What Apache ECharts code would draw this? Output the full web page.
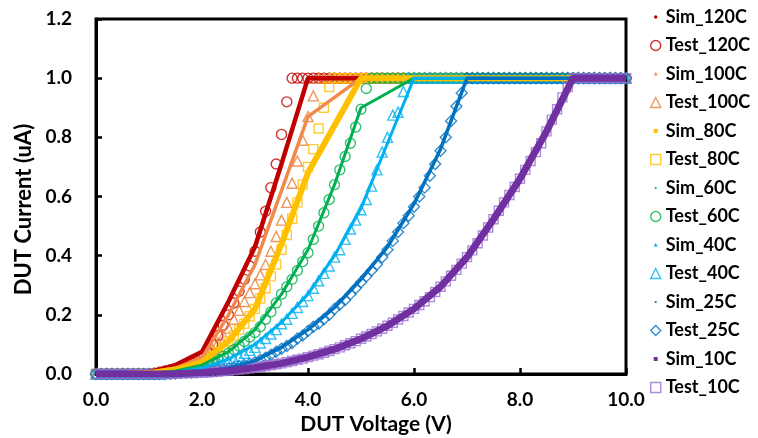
<!DOCTYPE html>
<html>
<head>
<meta charset="utf-8">
<script src="https://cdn.jsdelivr.net/npm/echarts@6/dist/echarts.min.js"></script>
<style>
  html, body { margin: 0; padding: 0; background: #fff; }
  #chart { width: 758px; height: 438px; }
</style>
</head>
<body>
<div id="chart"></div>
<script>
// 测试点电压 (0.1 V 步长)
var voltage = [
  0.0, 0.1, 0.2, 0.3, 0.4, 0.5, 0.6, 0.7, 0.8, 0.9,
  1.0, 1.1, 1.2, 1.3, 1.4, 1.5, 1.6, 1.7, 1.8, 1.9,
  2.0, 2.1, 2.2, 2.3, 2.4, 2.5, 2.6, 2.7, 2.8, 2.9,
  3.0, 3.1, 3.2, 3.3, 3.4, 3.5, 3.6, 3.7, 3.8, 3.9,
  4.0, 4.1, 4.2, 4.3, 4.4, 4.5, 4.6, 4.7, 4.8, 4.9,
  5.0, 5.1, 5.2, 5.3, 5.4, 5.5, 5.6, 5.7, 5.8, 5.9,
  6.0, 6.1, 6.2, 6.3, 6.4, 6.5, 6.6, 6.7, 6.8, 6.9,
  7.0, 7.1, 7.2, 7.3, 7.4, 7.5, 7.6, 7.7, 7.8, 7.9,
  8.0, 8.1, 8.2, 8.3, 8.4, 8.5, 8.6, 8.7, 8.8, 8.9,
  9.0, 9.1, 9.2, 9.3, 9.4, 9.5, 9.6, 9.7, 9.8, 9.9,
  10.0
];

// 仿真点电压 (0.5 V 步长)
var simVoltage = [0, 0.5, 1, 1.5, 2, 2.5, 3, 3.5, 4, 4.5, 5, 5.5, 6, 6.5, 7, 7.5, 8, 8.5, 9, 9.5, 10];

var sim120 = [0, 0, 0.005, 0.03, 0.075, 0.245, 0.43, 0.71, 1, 1, 1, 1, 1, 1, 1, 1, 1, 1, 1, 1, 1];
var sim100 = [0, 0, 0.004, 0.02, 0.055, 0.20, 0.37, 0.62, 0.87, 0.935, 1, 1, 1, 1, 1, 1, 1, 1, 1, 1, 1];
var sim80  = [0, 0, 0.003, 0.015, 0.04, 0.11, 0.22, 0.44, 0.68, 0.84, 1, 1, 1, 1, 1, 1, 1, 1, 1, 1, 1];
var sim60  = [0, 0, 0.002, 0.01, 0.03, 0.075, 0.15, 0.27, 0.42, 0.64, 0.90, 0.95, 1, 1, 1, 1, 1, 1, 1, 1, 1];
var sim40  = [0, 0, 0.001, 0.006, 0.02, 0.05, 0.10, 0.175, 0.27, 0.40, 0.56, 0.78, 1, 1, 1, 1, 1, 1, 1, 1, 1];
var sim25  = [0, 0, 0, 0.003, 0.008, 0.02, 0.045, 0.09, 0.15, 0.225, 0.32, 0.43, 0.575, 0.76, 1, 1, 1, 1, 1, 1, 1];
var sim10  = [0, 0, 0, 0.001, 0.005, 0.011, 0.021, 0.036, 0.057, 0.084, 0.119, 0.163, 0.22, 0.295, 0.395, 0.523, 0.66, 0.82, 1, 1, 1];

var test120 = [
  0, 0, 0, 0, 0, 0, 0, 0, 0, 0,
  0, 0.003, 0.006, 0.01, 0.014, 0.019, 0.025, 0.031, 0.038, 0.046,
  0.055, 0.075, 0.10, 0.13, 0.165, 0.20, 0.24, 0.28, 0.32, 0.365,
  0.415, 0.48, 0.55, 0.63, 0.71, 0.81, 0.92, 1, 1, 1,
  1, 1, 1, 1, 1, 1, 1, 1, 1, 1,
  1, 1, 1, 1, 1, 1, 1, 1, 1, 1,
  1, 1, 1, 1, 1, 1, 1, 1, 1, 1,
  1, 1, 1, 1, 1, 1, 1, 1, 1, 1,
  1, 1, 1, 1, 1, 1, 1, 1, 1, 1,
  1, 1, 1, 1, 1, 1, 1, 1, 1, 1,
  1
];
var test100 = [
  0, 0, 0, 0, 0, 0, 0, 0, 0, 0,
  0, 0.002, 0.005, 0.008, 0.012, 0.016, 0.021, 0.027, 0.033, 0.04,
  0.048, 0.063, 0.082, 0.105, 0.13, 0.155, 0.185, 0.215, 0.245, 0.275,
  0.305, 0.335, 0.37, 0.415, 0.465, 0.52, 0.58, 0.645, 0.72, 0.79,
  0.87, 0.94, 1, 1, 1, 1, 1, 1, 1, 1,
  1, 1, 1, 1, 1, 1, 1, 1, 1, 1,
  1, 1, 1, 1, 1, 1, 1, 1, 1, 1,
  1, 1, 1, 1, 1, 1, 1, 1, 1, 1,
  1, 1, 1, 1, 1, 1, 1, 1, 1, 1,
  1, 1, 1, 1, 1, 1, 1, 1, 1, 1,
  1
];
var test80 = [
  0, 0, 0, 0, 0, 0, 0, 0, 0, 0,
  0, 0, 0.003, 0.006, 0.009, 0.013, 0.017, 0.022, 0.027, 0.033,
  0.04, 0.05, 0.06, 0.075, 0.09, 0.11, 0.13, 0.15, 0.17, 0.195,
  0.22, 0.255, 0.29, 0.33, 0.37, 0.42, 0.47, 0.525, 0.58, 0.64,
  0.70, 0.76, 0.83, 0.90, 0.97, 1, 1, 1, 1, 1,
  1, 1, 1, 1, 1, 1, 1, 1, 1, 1,
  1, 1, 1, 1, 1, 1, 1, 1, 1, 1,
  1, 1, 1, 1, 1, 1, 1, 1, 1, 1,
  1, 1, 1, 1, 1, 1, 1, 1, 1, 1,
  1, 1, 1, 1, 1, 1, 1, 1, 1, 1,
  1
];
var test60 = [
  0, 0, 0, 0, 0, 0, 0, 0, 0, 0,
  0, 0, 0.002, 0.004, 0.006, 0.009, 0.012, 0.016, 0.02, 0.025,
  0.03, 0.035, 0.042, 0.05, 0.06, 0.07, 0.082, 0.095, 0.11, 0.125,
  0.14, 0.16, 0.185, 0.21, 0.24, 0.27, 0.295, 0.32, 0.35, 0.38,
  0.41, 0.455, 0.50, 0.545, 0.59, 0.64, 0.69, 0.735, 0.78, 0.835,
  0.895, 0.965, 1, 1, 1, 1, 1, 1, 1, 1,
  1, 1, 1, 1, 1, 1, 1, 1, 1, 1,
  1, 1, 1, 1, 1, 1, 1, 1, 1, 1,
  1, 1, 1, 1, 1, 1, 1, 1, 1, 1,
  1, 1, 1, 1, 1, 1, 1, 1, 1, 1,
  1
];
var test40 = [
  0, 0, 0, 0, 0, 0, 0, 0, 0, 0,
  0, 0, 0, 0.002, 0.004, 0.006, 0.008, 0.01, 0.013, 0.016,
  0.02, 0.023, 0.027, 0.032, 0.038, 0.045, 0.052, 0.06, 0.07, 0.08,
  0.09, 0.105, 0.12, 0.135, 0.15, 0.17, 0.185, 0.205, 0.225, 0.245,
  0.265, 0.29, 0.315, 0.34, 0.365, 0.395, 0.42, 0.455, 0.49, 0.52,
  0.555, 0.59, 0.635, 0.69, 0.75, 0.80, 0.875, 0.885, 0.955, 1,
  1, 1, 1, 1, 1, 1, 1, 1, 1, 1,
  1, 1, 1, 1, 1, 1, 1, 1, 1, 1,
  1, 1, 1, 1, 1, 1, 1, 1, 1, 1,
  1, 1, 1, 1, 1, 1, 1, 1, 1, 1,
  1
];
var test25 = [
  0, 0, 0, 0, 0, 0, 0, 0, 0, 0,
  0, 0, 0, 0, 0.001, 0.002, 0.003, 0.004, 0.005, 0.006,
  0.008, 0.009, 0.011, 0.013, 0.016, 0.019, 0.022, 0.026, 0.03, 0.035,
  0.04, 0.048, 0.055, 0.065, 0.075, 0.085, 0.095, 0.105, 0.12, 0.13,
  0.145, 0.16, 0.17, 0.185, 0.20, 0.22, 0.235, 0.25, 0.27, 0.29,
  0.31, 0.33, 0.35, 0.37, 0.395, 0.42, 0.45, 0.48, 0.51, 0.535,
  0.565, 0.60, 0.63, 0.67, 0.71, 0.755, 0.80, 0.855, 0.905, 0.95,
  1, 1, 1, 1, 1, 1, 1, 1, 1, 1,
  1, 1, 1, 1, 1, 1, 1, 1, 1, 1,
  1, 1, 1, 1, 1, 1, 1, 1, 1, 1,
  1
];
var test10 = [
  0, 0, 0, 0, 0, 0, 0, 0, 0, 0,
  0, 0, 0, 0, 0, 0.001, 0.002, 0.003, 0.003, 0.004,
  0.005, 0.006, 0.007, 0.008, 0.01, 0.011, 0.013, 0.015, 0.017, 0.019,
  0.021, 0.024, 0.027, 0.03, 0.033, 0.036, 0.04, 0.044, 0.048, 0.052,
  0.057, 0.062, 0.067, 0.072, 0.078, 0.084, 0.09, 0.097, 0.104, 0.111,
  0.119, 0.127, 0.135, 0.144, 0.153, 0.163, 0.173, 0.184, 0.196, 0.208,
  0.22, 0.233, 0.246, 0.26, 0.277, 0.295, 0.313, 0.332, 0.352, 0.373,
  0.395, 0.418, 0.442, 0.468, 0.495, 0.523, 0.552, 0.58, 0.605, 0.632,
  0.66, 0.69, 0.72, 0.75, 0.78, 0.82, 0.86, 0.895, 0.935, 0.97,
  1, 1, 1, 1, 1, 1, 1, 1, 1, 1,
  1
];

var xTicks = [0, 2, 4, 6, 8, 10];
var yTicks = [0, 0.2, 0.4, 0.6, 0.8, 1.0, 1.2];

// 小图例图标 (带透明边界点, 使图标在方框中变小)
var dotIcon = 'path://M0,0M10,10M5,3.3a1.7,1.7 0 1,0 0.001,0z';
var tinyDot = 'path://M0,0M10,10M5,3.9a1.1,1.1 0 1,0 0.001,0z';
var triIcon = 'path://M0,0M10,10M5,3L7,6.6H3z';
var sqIcon  = 'path://M0,0M10,10M3,3h4v4h-4z';

var groups = [
  { t: '120C', sim: sim120, test: test120, color: '#C00000', tcolor: '#C00000', width: 4.5, sym: 'circle', size: 10, icon: dotIcon },
  { t: '100C', sim: sim100, test: test100, color: '#F08A4B', tcolor: '#ED7D31', width: 3.5, sym: 'triangle', size: 10, icon: triIcon },
  { t: '80C',  sim: sim80,  test: test80,  color: '#FFC000', tcolor: '#FFC000', width: 6,   sym: 'rect', size: 9, icon: sqIcon },
  { t: '60C',  sim: sim60,  test: test60,  color: '#00B050', tcolor: '#00B050', width: 3,   sym: 'circle', size: 10, icon: tinyDot },
  { t: '40C',  sim: sim40,  test: test40,  color: '#00B0F0', tcolor: '#00B0F0', width: 3,   sym: 'triangle', size: 10, icon: triIcon },
  { t: '25C',  sim: sim25,  test: test25,  color: '#0070C0', tcolor: '#0070C0', width: 3.5, sym: 'diamond', size: 11, icon: tinyDot },
  { t: '10C',  sim: sim10,  test: test10,  color: '#7030A0', tcolor: '#9B6BD3', width: 7,   sym: 'rect', size: 9, icon: sqIcon }
];

var series = [];
var legendData = [];
groups.forEach(function (g) {
  series.push({
    name: 'Sim_' + g.t,
    type: 'line',
    data: simVoltage.map(function (v, i) { return [v, g.sim[i]]; }),
    showSymbol: false,
    symbol: 'none',
    color: g.color,
    lineStyle: { color: g.color, width: g.width },
    animation: false
  });
  series.push({
    name: 'Test_' + g.t,
    type: 'scatter',
    data: voltage.map(function (v, i) { return [v, g.test[i]]; }),
    symbol: g.sym,
    symbolSize: g.size,
    color: g.tcolor,
    itemStyle: { color: 'rgba(255,255,255,0)', borderColor: g.tcolor, borderWidth: 1.4 },
    animation: false
  });
  legendData.push({ name: 'Sim_' + g.t, icon: g.icon, itemStyle: { color: g.color, borderWidth: 0 } });
  legendData.push({ name: 'Test_' + g.t, icon: g.sym, itemStyle: { color: 'rgba(255,255,255,0)', borderColor: g.tcolor, borderWidth: 1.4 } });
});

var font = 'Lato';
var chart = echarts.init(document.getElementById('chart'), null, { renderer: 'canvas' });
chart.setOption({
  animation: false,
  backgroundColor: '#fff',
  grid: {
    left: 96, right: 132, top: 19, bottom: 64,
    outerBoundsMode: 'none',
    containLabel: false,
    show: true, borderColor: '#000', borderWidth: 3, backgroundColor: 'transparent'
  },
  legend: {
    orient: 'vertical',
    left: 650, top: 8,
    padding: 0,
    itemWidth: 10, itemHeight: 10,
    itemGap: 10.5,
    data: legendData,
    textStyle: { fontFamily: font, fontWeight: 'bold', fontSize: 18, color: '#000' }
  },
  xAxis: {
    type: 'value',
    min: xTicks[0], max: xTicks[xTicks.length - 1], interval: 2,
    name: 'DUT Voltage (V)',
    nameLocation: 'middle',
    nameGap: 40,
    nameTextStyle: { fontFamily: font, fontWeight: 'bold', fontSize: 21, color: '#000', padding: [0, 0, 0, 30] },
    axisLine: { lineStyle: { color: '#000', width: 3 } },
    axisTick: { inside: true, length: 6, lineStyle: { color: '#000', width: 2.5 } },
    axisLabel: { margin: 16, fontFamily: font, fontWeight: 'bold', fontSize: 19, color: '#000',
      formatter: function (v) { return v.toFixed(1); } },
    splitLine: { show: false }
  },
  yAxis: {
    type: 'value',
    min: yTicks[0], max: yTicks[yTicks.length - 1], interval: 0.2,
    name: 'DUT Current (uA)',
    nameLocation: 'middle',
    nameGap: 61,
    nameRotate: 90,
    nameTextStyle: { fontFamily: font, fontWeight: 'bold', fontSize: 22, color: '#000', padding: [0, 26, 0, 0] },
    axisLine: { show: true, lineStyle: { color: '#000', width: 3 } },
    axisTick: { show: true, inside: true, length: 6, lineStyle: { color: '#000', width: 2.5 } },
    axisLabel: { margin: 24, fontFamily: font, fontWeight: 'bold', fontSize: 19, color: '#000',
      formatter: function (v) { return v.toFixed(1); } },
    splitLine: { show: false }
  },
  series: series
});
</script>
</body>
</html>
